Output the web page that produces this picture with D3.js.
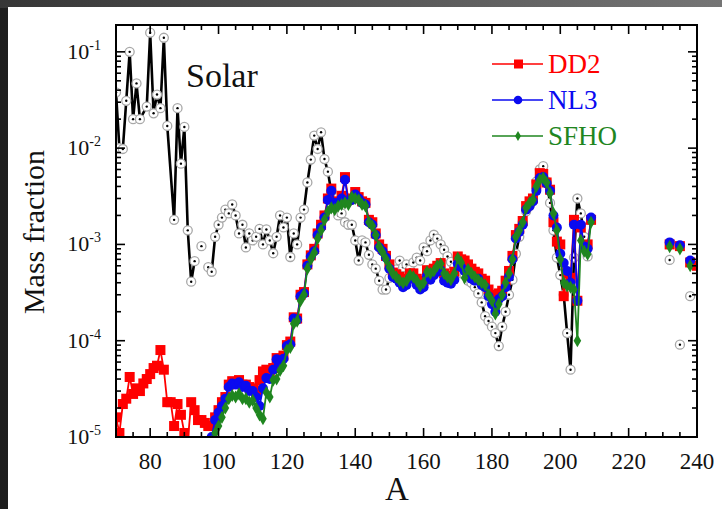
<!DOCTYPE html>
<html>
<head>
<meta charset="utf-8">
<script src="https://cdn.jsdelivr.net/npm/d3@7"></script>
<style>
  body { margin: 0; background: #2a2a2a; }
  svg { display: block; }
  text { font-family: "Liberation Serif", "Times New Roman", serif; }
</style>
</head>
<body>
<div id="chart"></div>
<script>
// mass number ticks
var xTicks = [80, 100, 120, 140, 160, 180, 200, 220, 240];
var yDecades = [-1, -2, -3, -4, -5];

// solar abundances: irregular head (70-95), run 97..208, isolated tail
var solarHeadA = [70, 71, 72, 73, 74, 75, 76, 77, 79, 80, 81, 82, 83, 84, 85, 87, 88, 89, 90, 91, 92, 93];
var solarHeadY = [0.038, 0.010, 0.0098, 0.031, 0.10, 0.020, 0.047, 0.020, 0.027, 0.158, 0.023, 0.036, 0.026, 0.14, 0.017,
    0.0018, 0.026, 0.0069, 0.0166, 0.0014, 0.00041, 0.00067];
var solarLoneA = [95];
var solarLoneY = [0.00096];
var solarY = [ // A = 97..208
    5.8e-4, 5.2e-4, 1.2e-3, 1.6e-3, 1.9e-3, 2.3e-3, 2.1e-3, 2.6e-3, 2.0e-3, 1.3e-3,
    1.6e-3, 9.3e-4, 1.3e-3, 1.1e-3, 1.2e-3, 1.45e-3, 1.0e-3, 1.43e-3, 1.1e-3, 8.1e-4,
    1.2e-3, 2.0e-3, 1.5e-3, 1.9e-3, 7.4e-4, 1.3e-3, 1.0e-3, 1.9e-3, 2.3e-3, 4.4e-3,
    7.6e-3, 1.35e-2, 9.8e-3, 1.46e-2, 7.7e-3, 5.7e-3, 3.5e-3, 2.4e-3, 2.0e-3, 2.1e-3,
    1.7e-3, 1.6e-3, 1.6e-3, 1.1e-3, 6.8e-4, 1.1e-3, 1.05e-3, 7.8e-4, 6.2e-4, 5.6e-4,
    4.2e-4, 3.4e-4, 3.4e-4, 4.5e-4, 5.0e-4, 5.5e-4, 6.8e-4, 5.8e-4, 6.2e-4, 5.5e-4,
    6.5e-4, 7.3e-4, 6.8e-4, 9.3e-4, 8.5e-4, 1.1e-3, 1.26e-3, 1.15e-3, 1.0e-3, 8.8e-4,
    7.5e-4, 6.6e-4, 5.8e-4, 5.5e-4, 5.0e-4, 4.8e-4, 4.2e-4, 4.0e-4, 3.6e-4, 3.1e-4,
    2.5e-4, 1.8e-4, 1.6e-4, 1.4e-4, 1.2e-4, 8.8e-5, 1.4e-4, 2.0e-4, 3.0e-4, 4.3e-4,
    8.0e-4, 1.2e-3, 1.7e-3, 2.2e-3, 2.5e-3, 3.0e-3, 4.5e-3, 6.0e-3, 6.5e-3, 4.5e-3,
    2.7e-3, 1.4e-3, 7.3e-4, 4.8e-4, 3.0e-4, 1.2e-4, 5.0e-5, 7.3e-4, 3.0e-3, 2.1e-3,
    1.2e-3, 7.5e-4
];
var solarTailA = [232, 235, 238];
var solarTailY = [6.9e-4, 9.1e-5, 2.9e-4];

// DD2: A = 70..97 (red only), then 98..209
var dd2LowY = [
    1.6e-5, 1.1e-5, 2.2e-5, 2.5e-5, 4.2e-5, 2.8e-5, 3.2e-5, 3.0e-5, 3.6e-5, 4.0e-5,
    4.5e-5, 5.2e-5, 5.5e-5, 8.0e-5, 5.0e-5, 2.3e-5, 2.3e-5, 1.3e-5, 2.2e-5, 1.7e-5,
    1.1e-5, 9.0e-6, 2.3e-5, 1.9e-5, 1.5e-5, 1.5e-5, 1.4e-5, 1.3e-5
];
var dd2Y = [ // A = 98..209
    1.3e-5, 1.6e-5, 1.9e-5, 2.3e-5, 2.6e-5, 3.5e-5, 3.8e-5, 3.7e-5, 3.9e-5, 3.5e-5,
    3.5e-5, 3.3e-5, 3.2e-5, 3.0e-5, 3.9e-5, 4.8e-5, 5.0e-5, 4.3e-5, 5.2e-5, 6.6e-5,
    6.2e-5, 7.0e-5, 9.0e-5, 9.8e-5, 1.75e-4, 1.7e-4, 3.0e-4, 3.2e-4, 6.2e-4, 7.7e-4,
    9.0e-4, 1.3e-3, 1.6e-3, 2.0e-3, 3.0e-3, 3.8e-3, 2.8e-3, 2.7e-3, 3.2e-3, 5.0e-3,
    2.9e-3, 3.0e-3, 3.5e-3, 3.1e-3, 2.8e-3, 2.7e-3, 1.8e-3, 1.7e-3, 1.3e-3, 1.0e-3,
    9.0e-4, 7.6e-4, 6.2e-4, 5.1e-4, 4.9e-4, 4.6e-4, 4.3e-4, 4.4e-4, 5.0e-4, 5.0e-4,
    4.4e-4, 4.0e-4, 4.2e-4, 5.4e-4, 5.0e-4, 5.6e-4, 6.0e-4, 6.4e-4, 5.0e-4, 4.7e-4,
    4.6e-4, 5.2e-4, 7.5e-4, 7.0e-4, 6.8e-4, 6.2e-4, 5.6e-4, 5.2e-4, 5.0e-4, 4.4e-4,
    4.2e-4, 3.4e-4, 3.0e-4, 2.6e-4, 3.1e-4, 3.3e-4, 4.2e-4, 5.3e-4, 7.6e-4, 1.25e-3,
    1.45e-3, 1.75e-3, 2.5e-3, 2.8e-3, 3.0e-3, 4.2e-3, 5.5e-3, 5.4e-3, 4.4e-3, 3.7e-3,
    1.7e-3, 1.07e-3, 1.0e-3, 2.9e-4, 5.0e-4, 4.5e-4, 1.8e-3, 2.6e-4, 1.5e-3, 9.6e-4,
    1.0e-3, 1.8e-3
];
var dd2TailA = [232, 235, 238, 240];
var dd2TailY = [1.0e-3, 9.6e-4, 6.5e-4, 6.0e-4];

// NL3: A = 98..209
var nl3Y = [
    1.0e-5, 1.5e-5, 1.8e-5, 2.1e-5, 2.5e-5, 3.3e-5, 3.6e-5, 3.5e-5, 3.7e-5, 3.3e-5,
    3.4e-5, 3.0e-5, 3.0e-5, 2.6e-5, 2.1e-5, 3.2e-5, 4.1e-5, 4.0e-5, 5.0e-5, 6.4e-5,
    5.8e-5, 6.5e-5, 8.8e-5, 9.2e-5, 1.7e-4, 1.65e-4, 2.9e-4, 3.1e-4, 6.0e-4, 7.5e-4,
    8.5e-4, 1.25e-3, 1.5e-3, 1.9e-3, 2.9e-3, 3.6e-3, 2.7e-3, 2.6e-3, 3.0e-3, 4.7e-3,
    2.8e-3, 2.9e-3, 3.3e-3, 3.0e-3, 2.7e-3, 2.6e-3, 1.7e-3, 1.6e-3, 1.25e-3, 9.3e-4,
    8.5e-4, 7.3e-4, 5.6e-4, 4.6e-4, 4.4e-4, 4.0e-4, 3.6e-4, 3.8e-4, 4.4e-4, 4.4e-4,
    3.8e-4, 3.4e-4, 3.6e-4, 4.7e-4, 4.3e-4, 4.8e-4, 5.2e-4, 5.4e-4, 4.2e-4, 4.0e-4,
    3.9e-4, 4.3e-4, 6.3e-4, 5.8e-4, 5.3e-4, 5.0e-4, 4.4e-4, 4.2e-4, 4.4e-4, 3.8e-4,
    3.6e-4, 2.9e-4, 2.4e-4, 2.0e-4, 2.7e-4, 2.9e-4, 3.6e-4, 4.6e-4, 7.0e-4, 1.15e-3,
    1.35e-3, 1.6e-3, 2.3e-3, 2.5e-3, 2.8e-3, 3.6e-3, 4.9e-3, 5.0e-3, 4.3e-3, 3.6e-3,
    2.0e-3, 1.5e-3, 8.0e-4, 6.4e-4, 5.3e-4, 4.0e-4, 1.6e-3, 2.6e-4, 1.6e-3, 9.5e-4,
    9.0e-4, 1.9e-3
];
var nl3TailA = [232, 235, 238];
var nl3TailY = [1.05e-3, 9.8e-4, 6.8e-4];

// SFHO: A = 98..209
var sfhoY = [
    9.0e-6, 1.1e-5, 1.3e-5, 1.6e-5, 2.0e-5, 2.5e-5, 2.7e-5, 2.6e-5, 2.8e-5, 2.5e-5,
    2.5e-5, 2.3e-5, 2.4e-5, 2.0e-5, 1.7e-5, 1.55e-5, 2.9e-5, 2.6e-5, 3.9e-5, 4.0e-5,
    4.9e-5, 5.5e-5, 8.0e-5, 8.5e-5, 1.5e-4, 1.6e-4, 2.6e-4, 3.0e-4, 5.6e-4, 7.0e-4,
    8.2e-4, 1.15e-3, 1.4e-3, 1.8e-3, 2.2e-3, 2.4e-3, 2.3e-3, 2.5e-3, 2.6e-3, 2.7e-3,
    2.6e-3, 3.1e-3, 3.0e-3, 2.9e-3, 2.6e-3, 2.5e-3, 1.7e-3, 1.55e-3, 1.25e-3, 9.5e-4,
    8.3e-4, 7.0e-4, 5.8e-4, 5.0e-4, 4.6e-4, 4.2e-4, 4.0e-4, 4.2e-4, 4.8e-4, 4.6e-4,
    4.2e-4, 3.7e-4, 4.0e-4, 5.2e-4, 5.0e-4, 5.3e-4, 6.0e-4, 6.3e-4, 5.0e-4, 4.6e-4,
    4.3e-4, 5.0e-4, 7.2e-4, 6.5e-4, 4.5e-4, 5.5e-4, 5.0e-4, 4.6e-4, 4.3e-4, 4.0e-4,
    3.8e-4, 3.0e-4, 2.6e-4, 1.9e-4, 2.4e-4, 3.0e-4, 4.0e-4, 5.0e-4, 7.0e-4, 1.2e-3,
    1.4e-3, 1.7e-3, 2.4e-3, 2.7e-3, 2.9e-3, 4.0e-3, 4.7e-3, 4.9e-3, 4.4e-3, 3.4e-3,
    2.1e-3, 1.4e-3, 7.0e-4, 4.0e-4, 3.7e-4, 3.6e-4, 3.4e-4, 1.0e-4, 1.1e-3, 8.5e-4,
    7.9e-4, 1.7e-3
];
var sfhoTailA = [232, 235, 238];
var sfhoTailY = [9.5e-4, 9.0e-4, 6.0e-4];

var GAP = { a: null, v: null };

function pairs(as, vs) {
    return as.map((a, i) => ({ a: a, v: vs[i] }));
}
function run(a0, vs) {
    return vs.map((v, i) => ({ a: a0 + i, v: v }));
}
function isolated(as, vs) {
    var out = [];
    as.forEach((a, i) => { out.push({ a: a, v: vs[i] }); out.push(GAP); });
    return out;
}

var solarPts = [].concat(pairs(solarHeadA, solarHeadY), [GAP], isolated(solarLoneA, solarLoneY),
    run(97, solarY), [GAP], isolated(solarTailA, solarTailY));
var dd2Pts = [].concat(run(70, dd2LowY), run(98, dd2Y), [GAP], isolated(dd2TailA, dd2TailY));
var nl3Pts = [].concat(run(98, nl3Y), [GAP], isolated(nl3TailA, nl3TailY));
var sfhoPts = [].concat(run(98, sfhoY), [GAP], isolated(sfhoTailA, sfhoTailY));

var svgWidth = 722;
var svgHeight = 509;
var plot = { left: 116, right: 697, top: 25, bottom: 437 };

var svg = d3.select('#chart')
    .append('svg')
    .attr('width', svgWidth)
    .attr('height', svgHeight);

// slide-like frame
var defs = svg.append('defs');
var topGrad = defs.append('linearGradient').attr('id', 'topGrad');
topGrad.append('stop').attr('offset', '0%').attr('stop-color', '#363636');
topGrad.append('stop').attr('offset', '100%').attr('stop-color', '#757575');
var leftGrad = defs.append('linearGradient').attr('id', 'leftGrad');
leftGrad.append('stop').attr('offset', '0%').attr('stop-color', '#1e1e1e');
leftGrad.append('stop').attr('offset', '100%').attr('stop-color', '#3a3a3a');

svg.append('rect').attr('width', svgWidth).attr('height', svgHeight).attr('fill', 'url(#leftGrad)');
svg.append('rect').attr('width', svgWidth).attr('height', 8).attr('fill', 'url(#topGrad)');
svg.append('rect').attr('x', 8).attr('y', 7).attr('width', svgWidth - 8).attr('height', svgHeight - 7).attr('fill', '#fff');

defs.append('clipPath').attr('id', 'plotClip')
    .append('rect')
    .attr('x', plot.left).attr('y', plot.top)
    .attr('width', plot.right - plot.left).attr('height', plot.bottom - plot.top);

var x = d3.scaleLinear().domain([70, 240]).range([plot.left, plot.right]);
var y = d3.scaleLog().domain([1e-5, 0.19]).range([plot.bottom, plot.top]);

var data = svg.append('g').attr('clip-path', 'url(#plotClip)');

var line = d3.line()
    .defined(d => d.v != null)
    .x(d => x(d.a))
    .y(d => y(d.v));

function drawLine(pts, color, w) {
    data.append('path')
        .datum(pts)
        .attr('fill', 'none')
        .attr('stroke', color)
        .attr('stroke-width', w)
        .attr('stroke-linejoin', 'round')
        .attr('d', line);
}

var RED = '#ff0000', BLUE = '#0a0af0', GREEN = '#1f861f';

// solar
drawLine(solarPts, '#000', 2.6);
var solarMarks = data.append('g').selectAll('g')
    .data(solarPts.filter(d => d.v != null))
    .enter().append('g')
    .attr('transform', d => `translate(${x(d.a)},${y(d.v)})`);
solarMarks.append('circle').attr('r', 4.5).attr('fill', '#fff').attr('stroke', '#a8a8a8').attr('stroke-width', 1.3);
solarMarks.append('circle').attr('r', 1.2).attr('fill', '#000');

// DD2
drawLine(dd2Pts, RED, 1.8);
data.append('g').selectAll('rect')
    .data(dd2Pts.filter(d => d.v != null))
    .enter().append('rect')
    .attr('x', d => x(d.a) - 5)
    .attr('y', d => y(d.v) - 5)
    .attr('width', 10).attr('height', 10)
    .attr('fill', RED);

// NL3
drawLine(nl3Pts, BLUE, 1.8);
data.append('g').selectAll('circle')
    .data(nl3Pts.filter(d => d.v != null))
    .enter().append('circle')
    .attr('cx', d => x(d.a))
    .attr('cy', d => y(d.v))
    .attr('r', 5)
    .attr('fill', BLUE);

// SFHO
var diamond = d3.symbol().type(d3.symbolDiamond).size(50);
drawLine(sfhoPts, GREEN, 1.8);
data.append('g').selectAll('path')
    .data(sfhoPts.filter(d => d.v != null))
    .enter().append('path')
    .attr('transform', d => `translate(${x(d.a)},${y(d.v)})`)
    .attr('d', diamond)
    .attr('fill', GREEN);

// frame + ticks (inward on all four sides)
var axes = svg.append('g').attr('stroke', '#000');
axes.append('rect')
    .attr('x', plot.left).attr('y', plot.top)
    .attr('width', plot.right - plot.left).attr('height', plot.bottom - plot.top)
    .attr('fill', 'none').attr('stroke-width', 2);

d3.range(70, 241, 5).forEach(function (a) {
    var len = (a % 20 === 0) ? 9 : 5;
    var px = x(a);
    axes.append('line').attr('x1', px).attr('x2', px).attr('y1', plot.bottom).attr('y2', plot.bottom - len).attr('stroke-width', 1.6);
    axes.append('line').attr('x1', px).attr('x2', px).attr('y1', plot.top).attr('y2', plot.top + len).attr('stroke-width', 1.6);
});

var yTickVals = y.ticks();
yTickVals.forEach(function (v) {
    var py = y(v);
    if (py < plot.top - 0.5 || py > plot.bottom + 0.5) return;
    var major = Math.abs(Math.log10(v) - Math.round(Math.log10(v))) < 1e-6;
    var len = major ? 9 : 5;
    axes.append('line').attr('x1', plot.left).attr('x2', plot.left + len).attr('y1', py).attr('y2', py).attr('stroke-width', 1.6);
    axes.append('line').attr('x1', plot.right).attr('x2', plot.right - len).attr('y1', py).attr('y2', py).attr('stroke-width', 1.6);
});

// tick labels
svg.append('g').selectAll('text')
    .data(xTicks)
    .enter().append('text')
    .attr('x', d => x(d))
    .attr('y', 469)
    .attr('text-anchor', 'middle')
    .attr('font-size', 23)
    .attr('fill', '#111')
    .text(d => d);

var yLab = svg.append('g').selectAll('text')
    .data(yDecades)
    .enter().append('text')
    .attr('x', 101)
    .attr('y', d => y(Math.pow(10, d)) + 7)
    .attr('text-anchor', 'end')
    .attr('font-size', 22)
    .attr('fill', '#111');
yLab.append('tspan').text('10');
yLab.append('tspan').attr('dy', -9).attr('font-size', 14).text(d => d);

// axis titles
svg.append('text')
    .attr('x', 397).attr('y', 500)
    .attr('text-anchor', 'middle')
    .attr('font-size', 33)
    .attr('fill', '#111')
    .text('A');

svg.append('text')
    .attr('transform', 'translate(44,232) rotate(-90)')
    .attr('text-anchor', 'middle')
    .attr('font-size', 30)
    .attr('fill', '#111')
    .text('Mass fraction');

svg.append('text')
    .attr('x', 186).attr('y', 87)
    .attr('font-size', 34)
    .attr('fill', '#111')
    .text('Solar');

// legend
var legendItems = [
    { name: 'DD2', color: RED, y: 64, mark: 'square' },
    { name: 'NL3', color: BLUE, y: 100, mark: 'circle' },
    { name: 'SFHO', color: GREEN, y: 136, mark: 'diamond' }
];
var legend = svg.append('g');
legendItems.forEach(function (it) {
    var g = legend.append('g');
    g.append('line').attr('x1', 492).attr('x2', 543).attr('y1', it.y).attr('y2', it.y)
        .attr('stroke', it.color).attr('stroke-width', 1.6);
    if (it.mark === 'square') {
        g.append('rect').attr('x', 514).attr('y', it.y - 4.5).attr('width', 9).attr('height', 9).attr('fill', it.color);
    } else if (it.mark === 'circle') {
        g.append('circle').attr('cx', 518).attr('cy', it.y).attr('r', 4.3).attr('fill', it.color);
    } else {
        g.append('path').attr('transform', `translate(518,${it.y})`)
            .attr('d', d3.symbol().type(d3.symbolDiamond).size(30)).attr('fill', it.color);
    }
    g.append('text').attr('x', 548).attr('y', it.y + 9)
        .attr('font-size', 27)
        .attr('fill', it.color)
        .text(it.name);
});
</script>
</body>
</html>
